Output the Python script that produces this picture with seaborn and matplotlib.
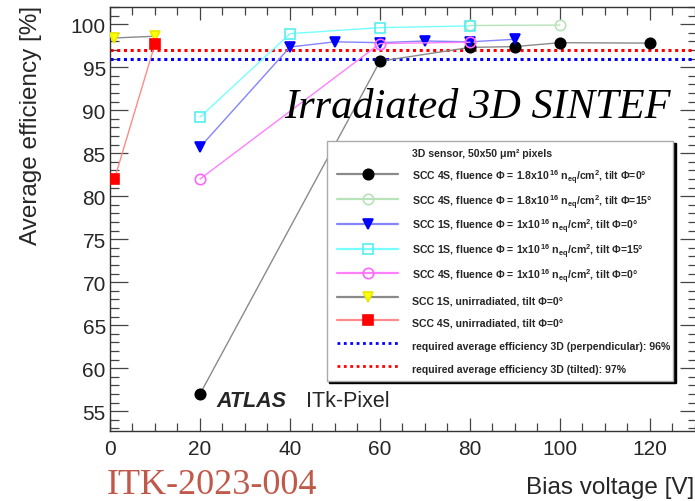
import numpy as np
import pandas as pd
import matplotlib
matplotlib.use("Agg")
import matplotlib.pyplot as plt
import seaborn as sns
from matplotlib.lines import Line2D
from matplotlib.legend_handler import HandlerLine2D
from matplotlib.ticker import MultipleLocator
from matplotlib.font_manager import FontProperties

sns.set_style("ticks")
plt.rcParams['font.family'] = ['Liberation Sans', 'DejaVu Sans']
plt.rcParams['mathtext.fontset'] = 'custom'
plt.rcParams['mathtext.rm'] = 'Liberation Sans:bold'
plt.rcParams['mathtext.it'] = 'Liberation Sans:bold'
plt.rcParams['mathtext.bf'] = 'Liberation Sans:bold'
plt.rcParams['mathtext.default'] = 'rm'

# ---- measurements: bias voltage [V] and average efficiency [%] ----
v_4s_18_t0 = [20, 60, 80, 90, 100, 120]
e_4s_18_t0 = [57.0, 95.7, 97.3, 97.4, 97.85, 97.8]

v_4s_18_t15 = [80, 100]
e_4s_18_t15 = [99.85, 99.9]

v_1s_10_t0 = [20, 40, 50, 60, 70, 80, 90]
e_1s_10_t0 = [85.7, 97.35, 97.95, 97.85, 98.05, 97.95, 98.25]

v_1s_10_t15 = [20, 40, 60, 80]
e_1s_10_t15 = [89.2, 98.9, 99.6, 99.8]

v_4s_10_t0 = [20, 60, 80]
e_4s_10_t0 = [82.0, 97.75, 97.9]

v_1s_unirr = [1, 10]
e_1s_unirr = [98.4, 98.6]

v_4s_unirr = [1, 10]
e_4s_unirr = [82.0, 97.7]

req_perp = 96.0
req_tilt = 97.0

labels = [
    r"SCC 4S, fluence Φ = 1.8x10$^{\,16}$ n$_{eq}$/cm$^{2}$, tilt Φ=0°",
    r"SCC 4S, fluence Φ = 1.8x10$^{\,16}$ n$_{eq}$/cm$^{2}$, tilt Φ=15°",
    r"SCC 1S, fluence Φ = 1x10$^{\,16}$ n$_{eq}$/cm$^{2}$, tilt Φ=0°",
    r"SCC 1S, fluence Φ = 1x10$^{\,16}$ n$_{eq}$/cm$^{2}$, tilt Φ=15°",
    r"SCC 4S, fluence Φ = 1x10$^{\,16}$ n$_{eq}$/cm$^{2}$, tilt Φ=0°",
    "SCC 1S, unirradiated, tilt Φ=0°",
    "SCC 4S, unirradiated, tilt Φ=0°",
]
req_labels = [
    "required average efficiency 3D (perpendicular): 96%",
    "required average efficiency 3D (tilted): 97%",
]
legend_header = "3D sensor, 50x50 μm² pixels"

data = [
    (v_4s_18_t0, e_4s_18_t0),
    (v_4s_18_t15, e_4s_18_t15),
    (v_1s_10_t0, e_1s_10_t0),
    (v_1s_10_t15, e_1s_10_t15),
    (v_4s_10_t0, e_4s_10_t0),
    (v_1s_unirr, e_1s_unirr),
    (v_4s_unirr, e_4s_unirr),
]

# marker, line colour, face colour, edge colour
styles = [
    ("o", "#8a8a8a", "black", "black"),
    ("o", "#b8e2b8", "none", "#b8e2b8"),
    ("v", "#8484ff", "#0000ff", "#0000ff"),
    ("s", "#77ffff", "none", "#55f0f0"),
    ("o", "#ff80ff", "none", "#ff66ff"),
    ("v", "#8a8a8a", "#ffff00", "#e8e800"),
    ("s", "#ff8a8a", "#ff0000", "#ff0000"),
]

W, H = 695, 502
fig = plt.figure(figsize=(W / 100, H / 100), dpi=100)
fig.patch.set_facecolor("white")

ax_left, ax_right, ax_top, ax_bot = 110, 697.25, 8, 432
ax = fig.add_axes([ax_left / W, 1 - ax_bot / H, (ax_right - ax_left) / W, (ax_bot - ax_top) / H])
ax.set_facecolor("white")

dot = (0, (1, 1.2))
ax.axhline(req_perp, color="#0000ff", lw=2.2, ls=dot, zorder=2)
ax.axhline(req_tilt, color="#ff0000", lw=2.2, ls=dot, zorder=2)

for (vx, vy), (mk, lc, fc, ec) in zip(data, styles):
    df = pd.DataFrame({"voltage": vx, "eff": vy})
    sns.lineplot(data=df, x="voltage", y="eff", ax=ax, color=lc, lw=1.0,
                 marker=mk, markersize=7.5, markerfacecolor=fc,
                 markeredgecolor=ec, markeredgewidth=1.2,
                 errorbar=None, sort=False, zorder=3)

ax.set_xlim(0, 130.5)
ax.set_ylim(52.7, 102.0)
ax.set_xlabel("")
ax.set_ylabel("")
ax.xaxis.set_major_locator(MultipleLocator(20))
ax.xaxis.set_minor_locator(MultipleLocator(5))
ax.yaxis.set_major_locator(MultipleLocator(5))
ax.yaxis.set_minor_locator(MultipleLocator(1))

for s in ax.spines.values():
    s.set_visible(True)
    s.set_color("#333333")
    s.set_linewidth(1.0)

tc = "#444444"
ax.tick_params(axis="y", which="major", direction="in", length=12.6, width=0.9,
               left=True, right=True, color=tc, labelsize=15, pad=3)
ax.tick_params(axis="y", which="minor", direction="in", length=6.5, width=0.9,
               left=True, right=True, color=tc)
ax.tick_params(axis="x", which="major", direction="in", length=9.6, width=0.9,
               bottom=True, top=True, color=tc, labelsize=15, pad=6)
ax.tick_params(axis="x", which="minor", direction="in", length=6.0, width=0.9,
               bottom=True, top=True, color=tc)

# annotations
ax.text(38.6, 89.2, "Irradiated 3D SINTEF", family="Liberation Serif", style="italic",
        fontsize=30.5, color="black", va="baseline", ha="left", zorder=4)
ax.text(23.7, 55.6, "ATLAS", fontsize=15.5, fontweight="bold", style="italic",
        va="baseline", ha="left", zorder=4)
ax.text(43.6, 55.6, "ITk-Pixel", fontsize=15.5, va="baseline", ha="left", zorder=4)

fig.text(31 / W, 1 - 125 / H, "Average efficiency [%]", rotation=90, fontsize=17.5,
         ha="center", va="center")
fig.text(694 / W, 1 - 494 / H, "Bias voltage [V]", fontsize=17.5, ha="right", va="baseline")
fig.text(107 / W, 1 - 494.5 / H, "ITK-2023-004", family="Liberation Serif", fontsize=26,
         color="#c0594a", ha="left", va="baseline")


class OffsetLineHandler(HandlerLine2D):
    """Legend line handler that leaves a gap before the sample line."""

    def __init__(self, offset, **kw):
        super().__init__(**kw)
        self.offset = offset

    def get_xdata(self, legend, xdescent, ydescent, width, height, fontsize):
        x0 = -xdescent + self.offset
        x1 = -xdescent + width
        return np.array([x0, x1]), np.array([0.5 * (x0 + x1)])


handles = [Line2D([], [], linestyle="none", marker=None, label=legend_header)]
for lab, (mk, lc, fc, ec) in zip(labels, styles):
    handles.append(Line2D([], [], color=lc, lw=1.6, marker=mk, markersize=7.5,
                          markerfacecolor=fc, markeredgecolor=ec, markeredgewidth=1.2,
                          label=lab))
handles.append(Line2D([], [], color="#0000ff", lw=2.0, ls=(0, (1, 1.3)), label=req_labels[0]))
handles.append(Line2D([], [], color="#ff0000", lw=2.0, ls=(0, (1, 1.3)), label=req_labels[1]))

lx0, lx1, ly0, ly1 = 326.7, 673, 141.7, 383
leg = ax.legend(handles=handles, loc="upper left",
                bbox_to_anchor=(lx0 / W, 1 - ly0 / H, (lx1 - lx0) / W, 0),
                bbox_transform=fig.transFigure, mode="expand", borderaxespad=0,
                frameon=True, fancybox=False, shadow={"color": "black", "alpha": 1},
                edgecolor="#aaaaaa", framealpha=1,
                prop=FontProperties(family="Liberation Sans", weight="bold", size=7.6),
                handlelength=6.4, handleheight=2.0, labelspacing=0.62,
                handletextpad=1.25, borderpad=0.4, numpoints=1,
                handler_map={Line2D: OffsetLineHandler(4.4)})
leg.get_frame().set_linewidth(1.0)
leg.set_zorder(5)

# pin the legend frame's top-left corner to its intended spot
fig.canvas.draw()
bb = leg.get_window_extent()
dx = (lx0 - bb.x0) / W
dy = ((H - ly0) - bb.y1) / H
leg.set_bbox_to_anchor((lx0 / W + dx, 1 - ly0 / H + dy, (lx1 - lx0) / W, 0),
                       transform=fig.transFigure)

fig.savefig("out.png", dpi=100, facecolor="white")
